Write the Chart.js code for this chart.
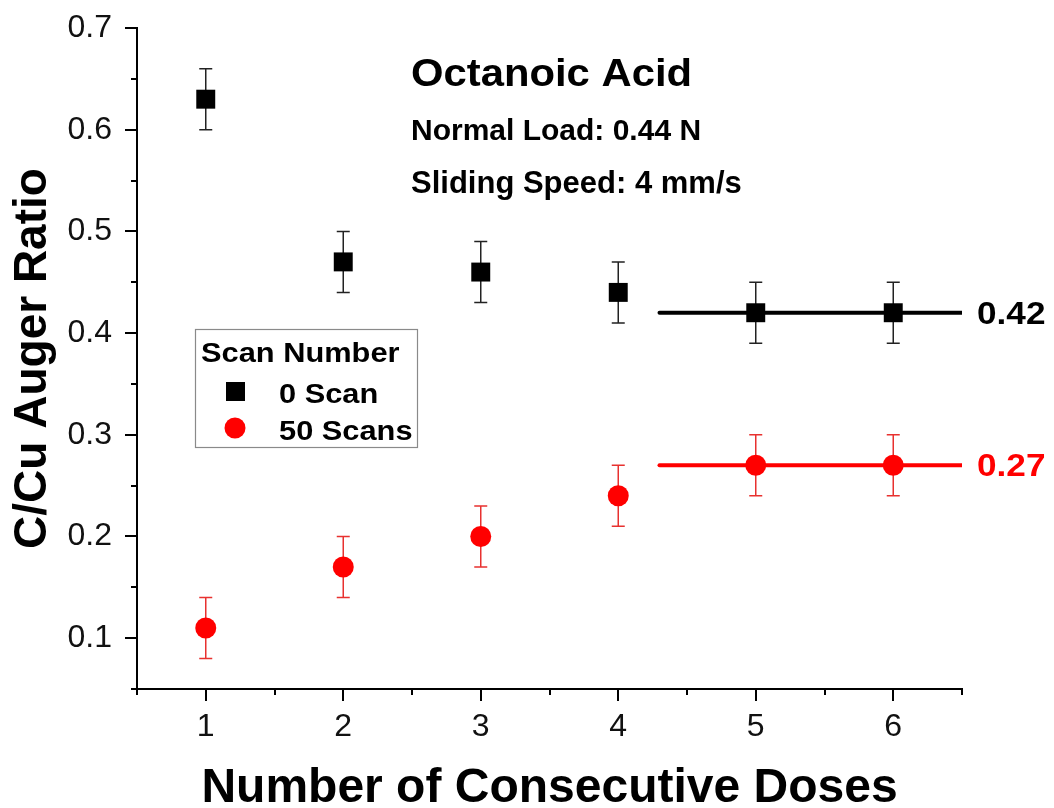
<!DOCTYPE html>
<html><head><meta charset="utf-8">
<script src="https://cdn.jsdelivr.net/npm/chart.js@4"></script>
<style>html,body{margin:0;padding:0;background:#fff;}#wrap{width:1054px;height:808px;}</style>
</head><body><div id="wrap"><canvas id="c" width="1054" height="808"></canvas></div>
<script>
// ---- data ----
const doses = [1, 2, 3, 4, 5, 6];
const scan0 = [0.63, 0.47, 0.46, 0.44, 0.42, 0.42];
const scan0Err = [0.03, 0.03, 0.03, 0.03, 0.03, 0.03];
const scan50 = [0.11, 0.17, 0.20, 0.24, 0.27, 0.27];
const scan50Err = [0.03, 0.03, 0.03, 0.03, 0.03, 0.03];
const plateauX = [4.3, 6.5];
const plateau0 = 0.42;
const plateau50 = 0.27;
const xTickValues = [1, 2, 3, 4, 5, 6];
const xMinorValues = [0.5, 1.5, 2.5, 3.5, 4.5, 5.5, 6.5];
const yTickValues = [0.1, 0.2, 0.3, 0.4, 0.5, 0.6, 0.7];
const yMinorValues = [0.05, 0.15, 0.25, 0.35, 0.45, 0.55, 0.65];
const seriesNames = ['0 Scan', '50 Scans'];
const legendTitle = 'Scan Number';
const noteLines = ['Octanoic Acid', 'Normal Load: 0.44 N', 'Sliding Speed: 4 mm/s'];
const xTitle = 'Number of Consecutive Doses';
const yTitle = 'C/Cu Auger Ratio';

const FONT = '"Liberation Sans", Arial, sans-serif';
const BLACK = '#000000';
const RED = '#ff0000';

function pts(xs, ys) { return xs.map((x, i) => ({x: x, y: ys[i]})); }

function txt(ctx, s, x, y, size, color, sx, align) {
  ctx.save();
  ctx.font = 'bold ' + size + 'px ' + FONT;
  ctx.fillStyle = color;
  ctx.textBaseline = 'alphabetic';
  ctx.textAlign = align || 'left';
  ctx.translate(x, y);
  ctx.scale(sx || 1, 1);
  ctx.fillText(s, 0, 0);
  ctx.restore();
}

const errorBars = {
  id: 'errorBars',
  beforeDatasetsDraw(chart) {
    const ctx = chart.ctx, xs = chart.scales.x, ys = chart.scales.y;
    const sets = [[scan0, scan0Err, '#222222'], [scan50, scan50Err, '#e8312f']];
    ctx.save();
    sets.forEach(([vals, errs, col]) => {
      ctx.strokeStyle = col; ctx.lineWidth = 1.5;
      vals.forEach((v, i) => {
        const px = xs.getPixelForValue(doses[i]);
        const top = ys.getPixelForValue(v + errs[i]);
        const bot = ys.getPixelForValue(v - errs[i]);
        ctx.beginPath();
        ctx.moveTo(px, top); ctx.lineTo(px, bot);
        ctx.moveTo(px - 6.5, top); ctx.lineTo(px + 6.5, top);
        ctx.moveTo(px - 6.5, bot); ctx.lineTo(px + 6.5, bot);
        ctx.stroke();
      });
    });
    ctx.restore();
  },
  afterDraw(chart) {
    const ctx = chart.ctx, xs = chart.scales.x, ys = chart.scales.y;
    const ca = chart.chartArea;
    ctx.save();
    ctx.strokeStyle = '#000'; ctx.lineWidth = 2;
    ctx.beginPath();
    yTickValues.forEach(v => { const p = Math.round(ys.getPixelForValue(v)); ctx.moveTo(ca.left, p); ctx.lineTo(ca.left - 12, p); });
    yMinorValues.forEach(v => { const p = Math.round(ys.getPixelForValue(v)); ctx.moveTo(ca.left, p); ctx.lineTo(ca.left - 6, p); });
    xTickValues.forEach(v => { const p = Math.round(xs.getPixelForValue(v)); ctx.moveTo(p, ca.bottom); ctx.lineTo(p, ca.bottom + 12); });
    xMinorValues.forEach(v => { const p = Math.round(xs.getPixelForValue(v)); ctx.moveTo(p, ca.bottom); ctx.lineTo(p, ca.bottom + 6); });
    ctx.stroke();

    // plateau value labels
    txt(ctx, plateau0.toFixed(2), 977, ys.getPixelForValue(plateau0) + 11, 32, BLACK, 1.1);
    txt(ctx, plateau50.toFixed(2), 977, ys.getPixelForValue(plateau50) + 11, 32, RED, 1.1);

    // notes
    txt(ctx, noteLines[0], 411, 86, 38, BLACK, 1.1);
    txt(ctx, noteLines[1], 411, 140, 30, BLACK, 1.0);
    txt(ctx, noteLines[2], 411, 193, 31, BLACK, 1.0);

    // legend box
    ctx.strokeStyle = '#8a8a8a'; ctx.lineWidth = 1.2;
    ctx.strokeRect(195.5, 329.5, 222, 118);
    txt(ctx, legendTitle, 201, 362, 28, BLACK, 1.1);
    ctx.fillStyle = BLACK;
    ctx.fillRect(226, 382, 19, 19);
    txt(ctx, seriesNames[0], 279, 403, 28, BLACK, 1.1);
    ctx.fillStyle = RED;
    ctx.beginPath(); ctx.arc(235, 428, 10.5, 0, Math.PI * 2); ctx.fill();
    txt(ctx, seriesNames[1], 279, 440, 28, BLACK, 1.1);
    ctx.restore();
  }
};

new Chart(document.getElementById('c'), {
  type: 'scatter',
  data: {
    datasets: [
      {label: 'avg0', type: 'line', data: plateauX.map(x => ({x: x, y: plateau0})), borderColor: BLACK, borderWidth: 4, pointRadius: 0, order: 3, borderCapStyle: 'round'},
      {label: 'avg50', type: 'line', data: plateauX.map(x => ({x: x, y: plateau50})), borderColor: RED, borderWidth: 4, pointRadius: 0, order: 3, borderCapStyle: 'round'},
      {label: seriesNames[0], data: pts(doses, scan0), pointStyle: 'rect', pointRadius: 13.4, backgroundColor: BLACK, borderColor: BLACK, borderWidth: 0, order: 1},
      {label: seriesNames[1], data: pts(doses, scan50), pointStyle: 'circle', pointRadius: 10.5, backgroundColor: RED, borderColor: RED, borderWidth: 0, order: 1}
    ]
  },
  options: {
    responsive: false,
    animation: false,
    devicePixelRatio: 1,
    layout: {padding: {top: 28, right: 92, left: 0, bottom: 0}},
    plugins: {legend: {display: false}, tooltip: {enabled: false}},
    elements: {point: {hoverRadius: 0}},
    scales: {
      x: {
        type: 'linear', position: 'bottom', min: 0.5, max: 6.5,
        afterBuildTicks: s => { s.ticks = xTickValues.map(v => ({value: v})); },
        afterFit: s => { s.height = 119; s.paddingLeft = 0; s.paddingRight = 0; },
        grid: {display: false, drawTicks: false},
        border: {display: true, color: '#000', width: 2},
        ticks: {font: {family: FONT, size: 32}, color: '#111', padding: 19, maxRotation: 0, autoSkip: false, callback: v => String(v)},
        title: {display: true, text: xTitle, color: '#000', font: {family: FONT, size: 48, weight: 'bold', lineHeight: 0.8}, padding: 0}
      },
      y: {
        type: 'linear', min: 0.05, max: 0.7,
        afterBuildTicks: s => { s.ticks = yTickValues.map(v => ({value: v})); },
        afterFit: s => { s.width = 137; s.paddingTop = 0; s.paddingBottom = 0; },
        grid: {display: false, drawTicks: false},
        border: {display: true, color: '#000', width: 2},
        ticks: {font: {family: FONT, size: 32}, color: '#111', padding: 25, autoSkip: false, callback: v => v.toFixed(1)},
        title: {display: true, text: yTitle, color: '#000', font: {family: FONT, size: 46, weight: 'bold', lineHeight: 1.2}, padding: {top: 6, bottom: 0}}
      }
    }
  },
  plugins: [errorBars]
});
</script>
</body></html>
